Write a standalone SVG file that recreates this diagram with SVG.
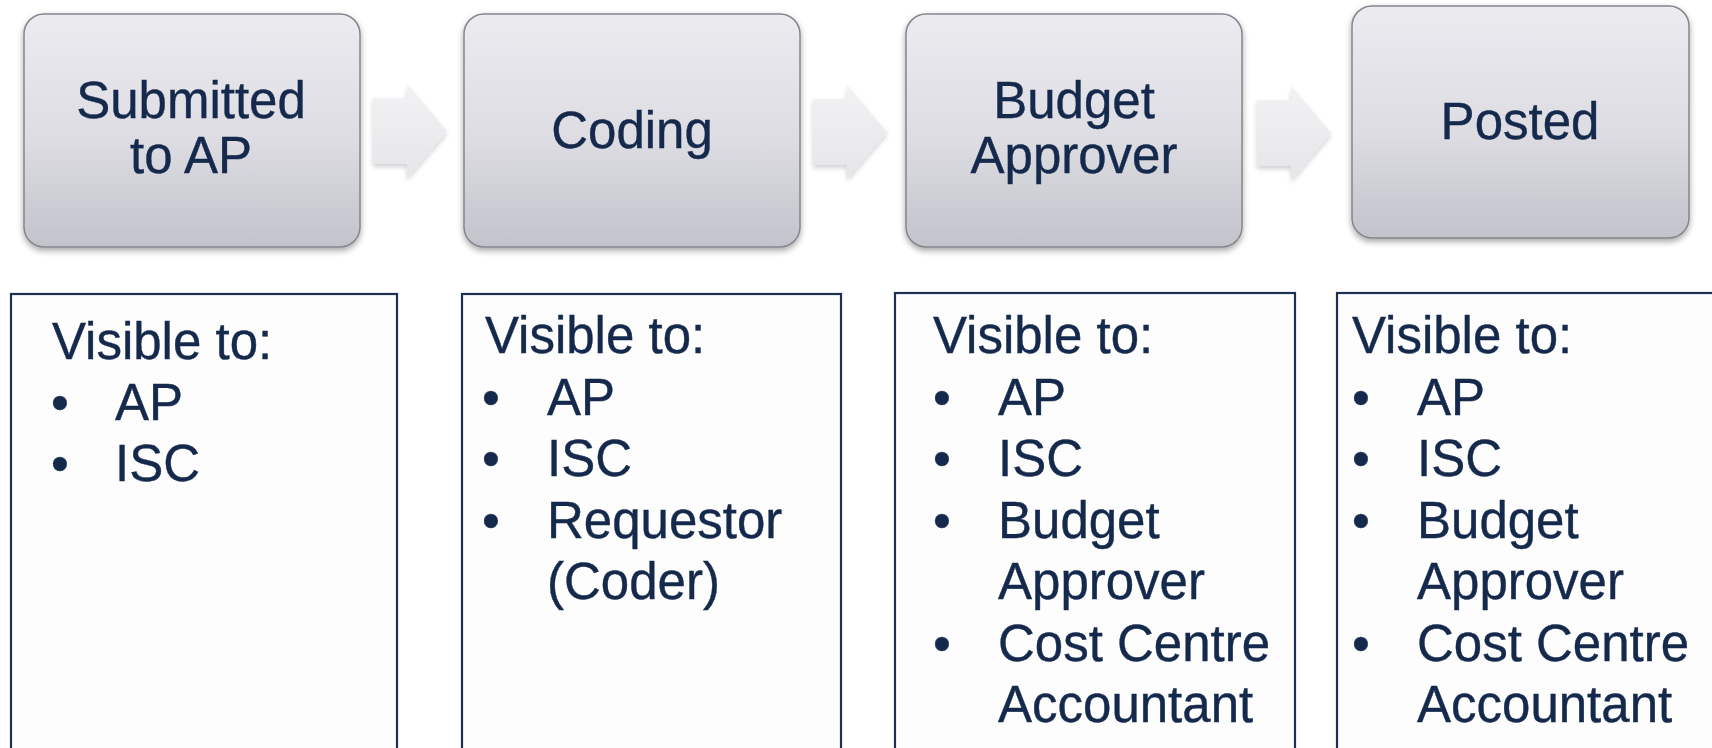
<svg xmlns="http://www.w3.org/2000/svg" width="1712" height="748" viewBox="0 0 1712 748">
  <defs>
    <linearGradient id="stageFill" x1="0" y1="0" x2="0" y2="1">
      <stop offset="0" stop-color="#ebebf0"/>
      <stop offset="0.55" stop-color="#dcdce2"/>
      <stop offset="1" stop-color="#c2c3cb"/>
    </linearGradient>
    <linearGradient id="arrowFill" x1="0" y1="0" x2="0" y2="1">
      <stop offset="0" stop-color="#f2f2f4"/>
      <stop offset="1" stop-color="#e6e6ea"/>
    </linearGradient>
    <filter id="stageShadow" x="-10%" y="-10%" width="120%" height="125%">
      <feGaussianBlur in="SourceAlpha" stdDeviation="3"/>
      <feOffset dx="0" dy="3" result="b"/>
      <feComponentTransfer><feFuncA type="linear" slope="0.35"/></feComponentTransfer>
      <feMerge><feMergeNode/><feMergeNode in="SourceGraphic"/></feMerge>
    </filter>
    <filter id="arrowShadow" x="-20%" y="-20%" width="140%" height="150%">
      <feGaussianBlur in="SourceAlpha" stdDeviation="2.5"/>
      <feOffset dx="0" dy="3" result="b"/>
      <feComponentTransfer><feFuncA type="linear" slope="0.18"/></feComponentTransfer>
      <feMerge><feMergeNode/><feMergeNode in="SourceGraphic"/></feMerge>
    </filter>
    <path id="chevron" d="M0,14 H34 V0 L74,47 L34,94 V80 H0 Z"/>
  </defs>
  <style>
    .stage { fill: url(#stageFill); stroke: #85868d; stroke-width: 1.5; filter: url(#stageShadow); }
    .title { font-family: "Liberation Sans", Arial, sans-serif; font-size: 51px; fill: #14294b; stroke: #14294b; stroke-width: 0.4; text-anchor: middle; }
    .panel { fill: #fdfdfe; stroke: #1d3253; stroke-width: 2.2; }
    .list { font-family: "Liberation Sans", Arial, sans-serif; font-size: 51px; fill: #14294b; stroke: #14294b; stroke-width: 0.4; }
    .arrow { fill: url(#arrowFill); filter: url(#arrowShadow); }
  </style>

  <rect width="1712" height="748" fill="#ffffff"/>

  <!-- flow arrows between stages -->
  <g id="connectors">
    <use href="#chevron" class="arrow" x="373" y="84"/>
    <use href="#chevron" class="arrow" x="813" y="85"/>
    <use href="#chevron" class="arrow" x="1257" y="86"/>
  </g>

  <!-- stage 1 -->
  <g id="stage-submitted">
    <rect class="stage" x="24" y="14" width="336" height="233" rx="20"/>
    <text class="title" x="191" y="118">Submitted</text>
    <text class="title" x="191" y="173">to AP</text>
  </g>
  <g id="panel-submitted">
    <rect class="panel" x="11" y="294" width="386" height="470"/>
    <text class="list" x="52" y="359">Visible to:</text>
    <text class="list" x="51" y="420">•</text><text class="list" x="115" y="420">AP</text>
    <text class="list" x="51" y="481">•</text><text class="list" x="115" y="481">ISC</text>
  </g>

  <!-- stage 2 -->
  <g id="stage-coding">
    <rect class="stage" x="464" y="14" width="336" height="233" rx="20"/>
    <text class="title" x="632" y="148">Coding</text>
  </g>
  <g id="panel-coding">
    <rect class="panel" x="462" y="294" width="379" height="470"/>
    <text class="list" x="485" y="353">Visible to:</text>
    <text class="list" x="482" y="415">•</text><text class="list" x="547" y="415">AP</text>
    <text class="list" x="482" y="476">•</text><text class="list" x="547" y="476">ISC</text>
    <text class="list" x="482" y="538">•</text><text class="list" x="547" y="538">Requestor</text>
    <text class="list" x="547" y="599">(Coder)</text>
  </g>

  <!-- stage 3 -->
  <g id="stage-budget">
    <rect class="stage" x="906" y="14" width="336" height="233" rx="20"/>
    <text class="title" x="1074" y="118">Budget</text>
    <text class="title" x="1074" y="173">Approver</text>
  </g>
  <g id="panel-budget">
    <rect class="panel" x="895" y="293" width="400" height="470"/>
    <text class="list" x="933" y="353">Visible to:</text>
    <text class="list" x="933" y="415">•</text><text class="list" x="998" y="415">AP</text>
    <text class="list" x="933" y="476">•</text><text class="list" x="998" y="476">ISC</text>
    <text class="list" x="933" y="538">•</text><text class="list" x="998" y="538">Budget</text>
    <text class="list" x="998" y="599">Approver</text>
    <text class="list" x="933" y="661">•</text><text class="list" x="998" y="661">Cost Centre</text>
    <text class="list" x="998" y="722">Accountant</text>
  </g>

  <!-- stage 4 -->
  <g id="stage-posted">
    <rect class="stage" x="1352" y="6" width="337" height="232" rx="20"/>
    <text class="title" x="1520" y="139">Posted</text>
  </g>
  <g id="panel-posted">
    <rect class="panel" x="1337" y="293" width="400" height="470"/>
    <text class="list" x="1352" y="353">Visible to:</text>
    <text class="list" x="1352" y="415">•</text><text class="list" x="1417" y="415">AP</text>
    <text class="list" x="1352" y="476">•</text><text class="list" x="1417" y="476">ISC</text>
    <text class="list" x="1352" y="538">•</text><text class="list" x="1417" y="538">Budget</text>
    <text class="list" x="1417" y="599">Approver</text>
    <text class="list" x="1352" y="661">•</text><text class="list" x="1417" y="661">Cost Centre</text>
    <text class="list" x="1417" y="722">Accountant</text>
  </g>
</svg>
